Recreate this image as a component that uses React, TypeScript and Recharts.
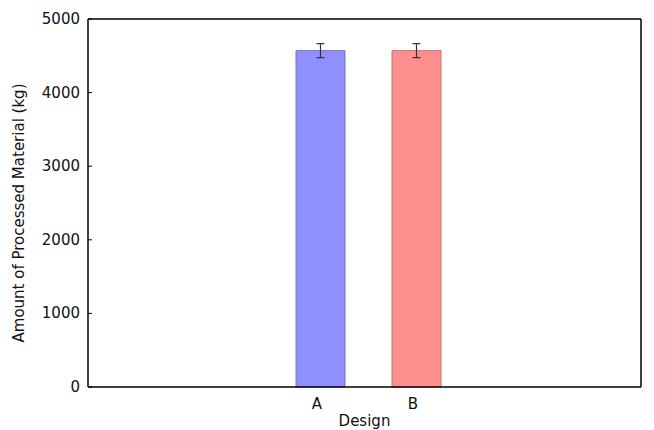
import { Bar, BarChart, Cell, ErrorBar, XAxis, YAxis } from "recharts";

const designs: string[] = ['A', 'B'];
const amounts: number[] = [4570, 4570];
const errors: number[] = [95, 95];
const yTicks: number[] = [0, 1000, 2000, 3000, 4000, 5000];

const fills = ['#8f8fff', '#ff8f8f'];
const edges = ['#7373c4', '#c47373'];

const data = designs.map((design, i) => ({
  design,
  amount: amounts[i],
  err: errors[i],
}));

const FONT = '"DejaVu Sans", sans-serif';

// left ticks: label at the default spot, short tick pointing into the plot
const LeftTick = (props: any) => {
  const { x, y, payload } = props;
  return <g>
    <line x1={ x + 8 } y1={ y } x2={ x + 12 } y2={ y } stroke="#000" strokeWidth={ 1 }/>
    <text x={ x } y={ y } dy={ 5 } textAnchor="end" fontSize={ 15 } fontFamily={ FONT } fill="#111">
      { payload.value }
    </text>
  </g>
};

const RightTick = (props: any) => {
  const { x, y } = props;
  return <line x1={ x - 8 } y1={ y } x2={ x - 12 } y2={ y } stroke="#000" strokeWidth={ 1 }/>
};

const BottomTick = (props: any) => {
  const { x, y, payload } = props;
  return <text x={ x - 3 } y={ y } dy={ 14 } textAnchor="middle" fontSize={ 15 } fontFamily={ FONT } fill="#111">
    { payload.value }
  </text>
};

const YLabel = (props: any) => {
  const { viewBox } = props;
  const cx = 19;
  const cy = viewBox.y + viewBox.height / 2 + 10;
  return <text x={ cx } y={ cy } transform={ `rotate(-90 ${ cx } ${ cy })` } textAnchor="middle" dominantBaseline="central"
               fontSize={ 15 } fontFamily={ FONT } fill="#111">
    Amount of Processed Material (kg)
  </text>
};

const XLabel = (props: any) => {
  const { viewBox } = props;
  const cx = viewBox.x + viewBox.width / 2;
  return <text x={ cx } y={ 426 } textAnchor="middle" fontSize={ 15 } fontFamily={ FONT } fill="#111">
    Design
  </text>
};

function App() {

  return (
    <div style={ { position: 'absolute', left: 0, top: 0 } }>
      <BarChart
        width={ 654 }
        height={ 430 }
        data={ data }
        margin={ { top: 0, right: 0, left: 0, bottom: 0 } }
        barSize={ 49 }
      >
        <XAxis
          dataKey="design"
          height={ 43 }
          padding={ { left: 184, right: 177 } }
          axisLine={ { stroke: '#000', strokeWidth: 1.5 } }
          tickLine={ false }
          tick={ BottomTick }
          interval={ 0 }
          label={ XLabel }
        />
        <XAxis
          xAxisId="top"
          dataKey="design"
          orientation="top"
          height={ 19 }
          padding={ { left: 184, right: 177 } }
          axisLine={ { stroke: '#000', strokeWidth: 1.5 } }
          tickLine={ false }
          tick={ false }
        />
        <YAxis
          width={ 88 }
          domain={ [0, 5000] }
          ticks={ yTicks }
          axisLine={ { stroke: '#000', strokeWidth: 1.5 } }
          tickLine={ false }
          tick={ LeftTick }
          label={ YLabel }
        />
        <YAxis
          yAxisId="right"
          orientation="right"
          width={ 13 }
          domain={ [0, 5000] }
          ticks={ yTicks }
          axisLine={ { stroke: '#000', strokeWidth: 1.5 } }
          tickLine={ false }
          tick={ RightTick }
        />
        <Bar dataKey="amount" isAnimationActive={ false }>
          { data.map((_entry, index) => (
            <Cell key={ `cell-${ index }` } fill={ fills[index] } stroke={ edges[index] } strokeWidth={ 1 }/>
          )) }
          <ErrorBar dataKey="err" width={ 4 } stroke="#333" strokeWidth={ 1.2 }/>
        </Bar>
      </BarChart>
    </div>
  )
}

export default App
